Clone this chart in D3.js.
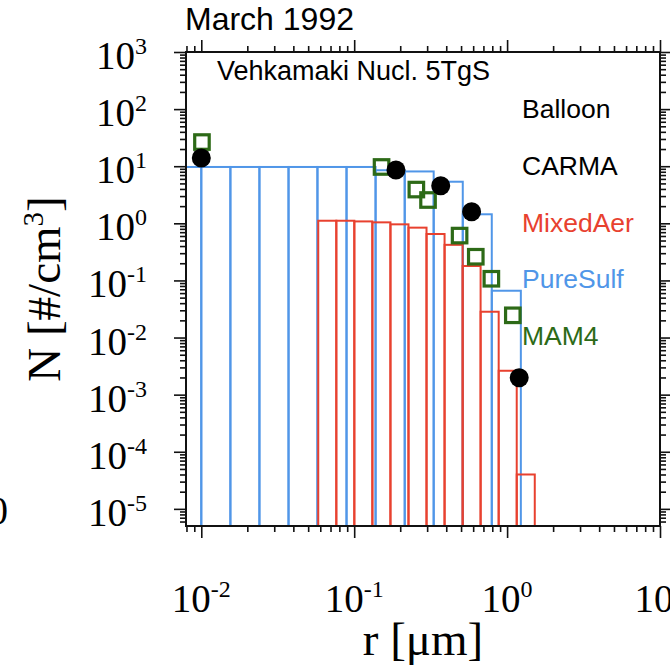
<!DOCTYPE html>
<html>
<head>
<meta charset="utf-8">
<script src="https://cdn.jsdelivr.net/npm/d3@7"></script>
<style>
  body { margin: 0; background: #fff; }
  .sans { font-family: "Liberation Sans", Arial, sans-serif; }
  .serif { font-family: "Liberation Serif", "Times New Roman", serif; }
</style>
</head>
<body>
<svg id="chart"></svg>
<script>
// PureSulf bins (edges in um, N in #/cm3)
var pureSulfEdges = [0.00646, 0.0100, 0.0155, 0.0240, 0.0372, 0.0575, 0.0891, 0.138, 0.214, 0.331, 0.513, 0.794, 1.23];
var pureSulfN = [9.7, 9.7, 9.7, 9.7, 9.7, 9.7, 9.7, 8.5, 8.1, 5.35, 1.44, 0.066];

// MixedAer bins
var mixedAerEdges = [0.0582, 0.0764, 0.1002, 0.1315, 0.1726, 0.2265, 0.2972, 0.390, 0.512, 0.671, 0.881, 1.156, 1.517];
var mixedAerN = [1.11, 1.11, 1.08, 1.04, 0.96, 0.84, 0.65, 0.42, 0.179, 0.0283, 0.00262, 0.00004];

// Balloon points
var balloonR = [0.0100, 0.1875, 0.368, 0.586, 1.20];
var balloonN = [13.9, 8.6, 4.55, 1.6, 0.00198];

// MAM4 points
var mam4R = [0.0101, 0.151, 0.255, 0.304, 0.489, 0.624, 0.789, 1.09];
var mam4N = [26.5, 9.7, 3.9, 2.56, 0.61, 0.26, 0.107, 0.0245];

var legendLabels = ["Balloon", "CARMA", "MixedAer", "PureSulf", "MAM4"];
var legendColors = ["#000", "#000", "#e8412f", "#5096e8", "#2d6a17"];

var xTickExps = [-2, -1, 0, 1];
var yTickExps = [3, 2, 1, 0, -1, -2, -3, -4, -5];

var w = 670;
var h = 672;
var plot = { left: 186, right: 660, top: 52, bottom: 526 };

var blue = "#5096e8";
var red = "#e8412f";
var green = "#2d6a17";

var svg = d3.select("#chart")
  .attr("width", w)
  .attr("height", h);

var xScale = d3.scaleLog()
  .domain([Math.pow(10, -2.1), 10])
  .range([plot.left, plot.right]);

var yScale = d3.scaleLog()
  .domain([Math.pow(10, -5.3), 1000])
  .range([plot.bottom, plot.top]);

svg.append("clipPath")
  .attr("id", "clip")
  .append("rect")
  .attr("x", plot.left)
  .attr("y", plot.top)
  .attr("width", plot.right - plot.left)
  .attr("height", plot.bottom - plot.top);

var g = svg.append("g").attr("clip-path", "url(#clip)");

function bins(edges, vals) {
  return vals.map(function(v, i) {
    return { x0: edges[i], x1: edges[i + 1], n: v };
  });
}

function drawHist(data, color) {
  g.append("g")
    .selectAll("rect")
    .data(data)
    .enter()
    .append("rect")
    .attr("x", function(d) { return xScale(d.x0); })
    .attr("width", function(d) { return xScale(d.x1) - xScale(d.x0); })
    .attr("y", function(d) { return yScale(d.n); })
    .attr("height", function(d) { return plot.bottom + 2 - yScale(d.n); })
    .attr("fill", "none")
    .attr("stroke", color)
    .attr("stroke-width", 2);
}

drawHist(bins(pureSulfEdges, pureSulfN), blue);
drawHist(bins(mixedAerEdges, mixedAerN), red);

var sq = 14.5;
g.append("g")
  .selectAll("rect")
  .data(mam4R)
  .enter()
  .append("rect")
  .attr("x", function(d) { return xScale(d) - sq / 2; })
  .attr("y", function(d, i) { return yScale(mam4N[i]) - sq / 2; })
  .attr("width", sq)
  .attr("height", sq)
  .attr("fill", "none")
  .attr("stroke", green)
  .attr("stroke-width", 3.2);

g.append("g")
  .selectAll("circle")
  .data(balloonR)
  .enter()
  .append("circle")
  .attr("cx", function(d) { return xScale(d); })
  .attr("cy", function(d, i) { return yScale(balloonN[i]); })
  .attr("r", 9.5)
  .attr("fill", "#000");

// ticks
var xTicks = xScale.ticks();
var yTicks = yScale.ticks();
function isMajor(d) { return Math.abs(Math.log10(d) - Math.round(Math.log10(d))) < 1e-6; }
var xMajor = xTicks.filter(isMajor), xMinor = xTicks.filter(function(d) { return !isMajor(d); });
var yMajor = yTicks.filter(isMajor), yMinor = yTicks.filter(function(d) { return !isMajor(d); });

function addAxis(axisFn, scale, vals, size, transform) {
  var a = svg.append("g")
    .attr("transform", transform)
    .call(axisFn(scale).tickValues(vals).tickSize(size).tickSizeOuter(0).tickFormat(""));
  a.select(".domain").remove();
  a.selectAll("line").attr("stroke", "#111").attr("stroke-width", 1.6);
}

addAxis(d3.axisBottom, xScale, xMajor, 12, "translate(0," + plot.bottom + ")");
addAxis(d3.axisBottom, xScale, xMinor, 6, "translate(0," + plot.bottom + ")");
addAxis(d3.axisTop, xScale, xMajor, 12, "translate(0," + plot.top + ")");
addAxis(d3.axisTop, xScale, xMinor, 6, "translate(0," + plot.top + ")");
addAxis(d3.axisLeft, yScale, yMajor, 12, "translate(" + plot.left + ",0)");
addAxis(d3.axisLeft, yScale, yMinor, 6, "translate(" + plot.left + ",0)");
addAxis(d3.axisRight, yScale, yMajor, 12, "translate(" + plot.right + ",0)");
addAxis(d3.axisRight, yScale, yMinor, 6, "translate(" + plot.right + ",0)");

svg.append("rect")
  .attr("x", plot.left)
  .attr("y", plot.top)
  .attr("width", plot.right - plot.left)
  .attr("height", plot.bottom - plot.top)
  .attr("fill", "none")
  .attr("stroke", "#111")
  .attr("stroke-width", 2);

// tick labels
var yl = svg.append("g")
  .selectAll("text")
  .data(yTickExps)
  .enter()
  .append("text")
  .attr("class", "serif")
  .attr("x", 147)
  .attr("y", function(d) { return yScale(Math.pow(10, d)) + 17; })
  .attr("text-anchor", "end")
  .attr("font-size", 39);
yl.append("tspan").text("10");
yl.append("tspan").attr("dy", -15).attr("font-size", 24).text(function(d) { return d; });

var xl = svg.append("g")
  .selectAll("text")
  .data(xTickExps)
  .enter()
  .append("text")
  .attr("class", "serif")
  .attr("x", function(d) { return xScale(Math.pow(10, d)); })
  .attr("y", 612)
  .attr("text-anchor", "middle")
  .attr("font-size", 39);
xl.append("tspan").text("10");
xl.append("tspan").attr("dy", -15).attr("font-size", 24).text(function(d) { return d; });

// axis titles
svg.append("text")
  .attr("class", "serif")
  .attr("x", (plot.left + plot.right) / 2)
  .attr("y", 655)
  .attr("text-anchor", "middle")
  .attr("font-size", 47)
  .text("r [\u03bcm]");

var yt = svg.append("text")
  .attr("class", "serif")
  .attr("transform", "translate(60,289) rotate(-90)")
  .attr("text-anchor", "middle")
  .attr("font-size", 47);
yt.append("tspan").text("N [#/cm");
yt.append("tspan").attr("dy", -17).attr("font-size", 29).text("3");
yt.append("tspan").attr("dy", 17).text("]");

// stray glyph from neighbouring panel
svg.append("text")
  .attr("class", "serif")
  .attr("x", 8)
  .attr("y", 524)
  .attr("text-anchor", "end")
  .attr("font-size", 39)
  .text("0");

svg.append("text")
  .attr("class", "sans")
  .attr("x", 185)
  .attr("y", 30)
  .attr("font-size", 32)
  .text("March 1992");

svg.append("text")
  .attr("class", "sans")
  .attr("x", 217)
  .attr("y", 80)
  .attr("font-size", 27)
  .text("Vehkamaki Nucl. 5TgS");

svg.append("g")
  .selectAll("text")
  .data(legendLabels)
  .enter()
  .append("text")
  .attr("class", "sans")
  .attr("x", 522)
  .attr("y", function(d, i) { return 118 + i * 56.8; })
  .attr("font-size", 26.5)
  .attr("fill", function(d, i) { return legendColors[i]; })
  .text(function(d) { return d; });
</script>
</body>
</html>
